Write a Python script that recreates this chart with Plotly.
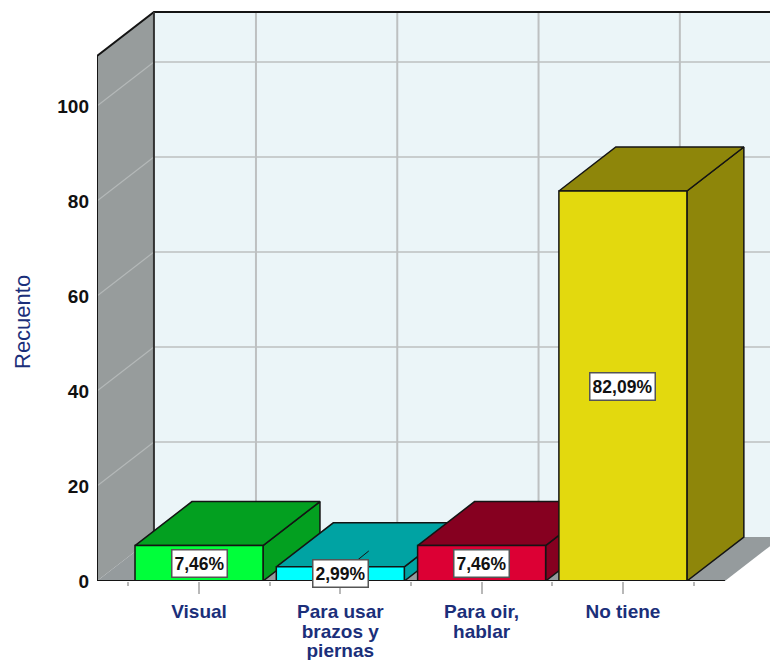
import plotly.graph_objects as go

categories = [["Visual"], ["Para usar", "brazos y", "piernas"], ["Para oir,", "hablar"], ["No tiene"]]
percent_values = [7.46, 2.99, 7.46, 82.09]
percent_labels = ["7,46%", "2,99%", "7,46%", "82,09%"]
front_colors = ["#00FF3A", "#00FFFF", "#DC0034", "#E3D90E"]
shade_colors = ["#03A020", "#00A3A3", "#860020", "#8E860A"]
y_ticks = [0, 20, 40, 60, 80, 100]

# Projection of the pseudo-3D box, in axis units
DEPTH_X = 0.403
DEPTH_Y = 9.26
BAR_W = 0.906
X_MIN, X_MAX = -0.722, 3.722
Y_TOP = 110.5
VIEW_X = (-0.722, 4.041)
VIEW_Y = (0, 122.3)

EDGE = "#141414"
NAVY = "#1B2F7A"
fig = go.Figure()


def poly(xs, ys, fill, line=EDGE, width=1.5):
    fig.add_trace(go.Scatter(
        x=list(xs) + [xs[0]], y=list(ys) + [ys[0]], mode="lines", fill="toself",
        fillcolor=fill, line=dict(color=line, width=width),
        hoverinfo="skip", showlegend=False))


def seg(xs, ys, color, width=1.5):
    fig.add_trace(go.Scatter(x=xs, y=ys, mode="lines", line=dict(color=color, width=width),
                             hoverinfo="skip", showlegend=False))


def tick_text(lines):
    return "<br>".join(f'<b><span style="font-size:19px">{t}</span></b>' for t in lines)


# Walls and floor
poly([X_MIN + DEPTH_X, 5, 5, X_MIN + DEPTH_X], [DEPTH_Y, DEPTH_Y, Y_TOP + DEPTH_Y, Y_TOP + DEPTH_Y],
     "#EBF5F8", line="rgba(0,0,0,0)", width=0)
poly([X_MIN, X_MIN + DEPTH_X, X_MIN + DEPTH_X, X_MIN], [0, DEPTH_Y, Y_TOP + DEPTH_Y, Y_TOP],
     "#979C9C", line="rgba(0,0,0,0)", width=0)
poly([X_MIN, X_MAX, X_MAX + DEPTH_X, X_MIN + DEPTH_X], [0, 0, DEPTH_Y, DEPTH_Y],
     "#959B9D", line="rgba(0,0,0,0)", width=0)

# Grid
for v in y_ticks[1:]:
    seg([X_MIN, X_MIN + DEPTH_X], [v, v + DEPTH_Y], "#B4B8B8", 1.2)
    seg([X_MIN + DEPTH_X, 5], [v + DEPTH_Y, v + DEPTH_Y], "#C8CDCE", 2)
for i in range(len(categories) + 1):
    gx = i + DEPTH_X
    seg([gx, gx], [DEPTH_Y, Y_TOP + DEPTH_Y], "#BDC0C1", 2)

# Wall edges
seg([X_MIN, X_MIN, X_MIN + DEPTH_X, 5], [0, Y_TOP, Y_TOP + DEPTH_Y, Y_TOP + DEPTH_Y], EDGE, 2)
seg([X_MIN + DEPTH_X, X_MIN + DEPTH_X], [DEPTH_Y, Y_TOP + DEPTH_Y], "#333333", 2)

# Bars, left to right so that each one hides the side of the one before
for i, (v, front, shade) in enumerate(zip(percent_values, front_colors, shade_colors)):
    x0, x1 = i - BAR_W / 2, i + BAR_W / 2
    poly([x1, x1 + DEPTH_X, x1 + DEPTH_X, x1], [0, DEPTH_Y, v + DEPTH_Y, v], shade)
    poly([x0, x1, x1 + DEPTH_X, x0 + DEPTH_X], [v, v, v + DEPTH_Y, v + DEPTH_Y], shade)
    poly([x0, x1, x1, x0], [0, 0, v, v], front)

# Leader stub behind the small bar's label
seg([1, 1 + DEPTH_X / 2], [percent_values[1] / 2, percent_values[1] + DEPTH_Y * 0.36], EDGE, 1)

# Front floor edge
seg([X_MIN, X_MAX], [0, 0], EDGE, 2)

for i, (v, label) in enumerate(zip(percent_values, percent_labels)):
    fig.add_annotation(x=i, y=v / 2, text=f"<b>{label}</b>", showarrow=False,
                       font=dict(family="Liberation Sans", size=17.5, color="#111111"),
                       bgcolor="white", bordercolor="#555555", borderwidth=1.5, borderpad=2,
                       height=22, width=len(label) * 10)

fig.add_annotation(xref="paper", yref="paper", x=(22 - 97) / 673, y=1 - 322 / 581,
                   xanchor="center", yanchor="middle",
                   text="Recuento", textangle=-90, showarrow=False,
                   font=dict(family="Liberation Sans", size=22, color=NAVY))

fig.update_layout(
    width=770, height=660,
    margin=dict(l=97, r=0, t=0, b=79),
    paper_bgcolor="white", plot_bgcolor="white",
    xaxis=dict(
        range=list(VIEW_X), showgrid=False, zeroline=False, showline=False,
        tickmode="array", tickvals=list(range(len(categories))),
        ticktext=[tick_text(c) for c in categories],
        ticks="outside", ticklen=12, tickwidth=1.5, tickcolor="#B8B8B8",
        ticklabelstandoff=6,
        tickfont=dict(family="Liberation Sans", size=15, color=NAVY),
        minor=dict(tickmode="array", tickvals=[i - 0.5 for i in range(len(categories) + 1)],
                   ticks="outside", ticklen=4, tickwidth=1.5, tickcolor="#B8B8B8"),
    ),
    yaxis=dict(
        range=list(VIEW_Y), showgrid=False, zeroline=False, showline=False,
        tickmode="array", tickvals=y_ticks, ticktext=[f"<b>{t}</b>" for t in y_ticks],
        ticks="", ticklabelstandoff=7,
        tickfont=dict(family="Liberation Sans", size=19, color="#111111"),
    ),
)
fig.write_html("out.html", config={"displayModeBar": False},
               post_script="document.body.style.margin='0';document.documentElement.style.overflow='hidden';")
